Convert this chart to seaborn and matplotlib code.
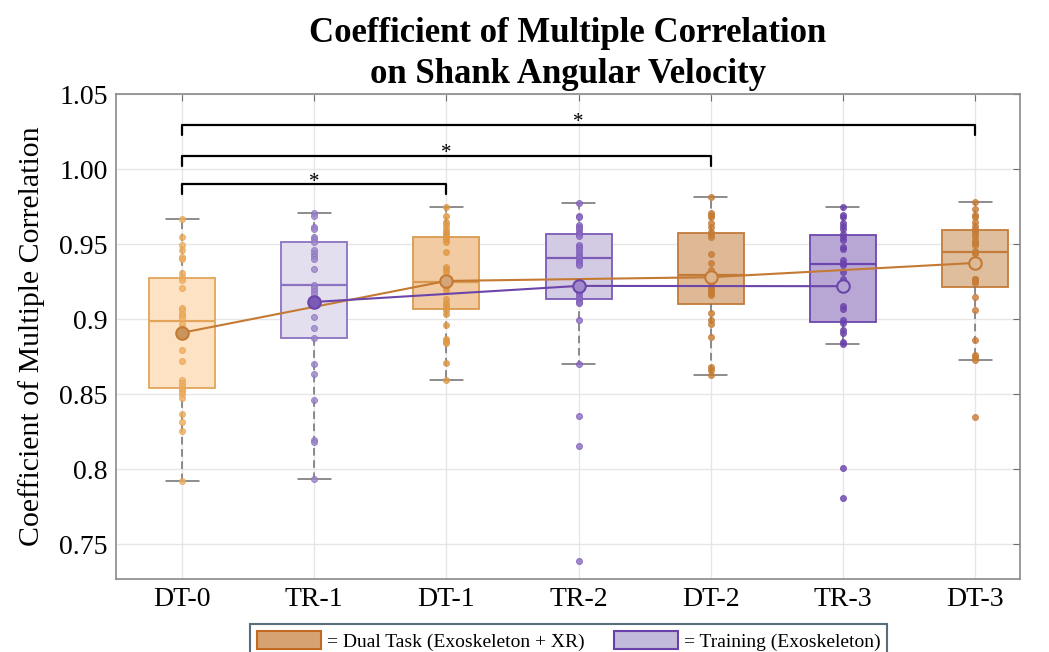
import numpy as np
import pandas as pd
import matplotlib
matplotlib.use("Agg")
import matplotlib.pyplot as plt
from matplotlib.patches import Patch
import seaborn as sns

# Conditions in plotting order
categories = ["DT-0", "TR-1", "DT-1", "TR-2", "DT-2", "TR-3", "DT-3"]

# Per-subject CMC values
dt0 = [0.9665, 0.9549, 0.9493, 0.946, 0.9415, 0.9398, 0.9305, 0.9278, 0.926, 0.9205,
       0.9078, 0.906, 0.9038, 0.903, 0.9011, 0.8965, 0.8942, 0.8793, 0.872, 0.8593,
       0.8575, 0.8558, 0.8538, 0.852, 0.85, 0.8478, 0.8371, 0.8315, 0.8255, 0.7922]
tr1 = [0.9705, 0.9687, 0.9615, 0.9604, 0.9549, 0.9533, 0.9515, 0.946, 0.9438, 0.9422,
       0.9398, 0.9333, 0.9227, 0.9211, 0.9187, 0.9167, 0.9015, 0.894, 0.8875, 0.8705,
       0.8635, 0.8465, 0.8198, 0.8182, 0.7933]
dt1 = [0.9749, 0.9687, 0.9649, 0.9627, 0.9604, 0.9582, 0.9567, 0.9549, 0.9533, 0.9515,
       0.9449, 0.9349, 0.9333, 0.9315, 0.926, 0.924, 0.9225, 0.9215, 0.9198, 0.9138,
       0.9109, 0.9087, 0.906, 0.9038, 0.896, 0.8871, 0.8855, 0.8842, 0.8709, 0.8598]
tr2 = [0.9775, 0.9687, 0.9682, 0.9627, 0.9611, 0.9598, 0.9582, 0.9567, 0.9553, 0.9493,
       0.9478, 0.946, 0.9438, 0.9422, 0.9405, 0.9389, 0.9375, 0.936, 0.9182, 0.9167,
       0.9149, 0.9133, 0.9115, 0.9105, 0.8998, 0.87, 0.8355, 0.8155, 0.7389]
dt2 = [0.9815, 0.9709, 0.9693, 0.9682, 0.9638, 0.9615, 0.9582, 0.9567, 0.9549, 0.9433,
       0.9375, 0.9327, 0.9295, 0.9293, 0.9249, 0.9227, 0.9211, 0.9193, 0.9175, 0.916,
       0.9042, 0.8993, 0.8971, 0.8882, 0.8682, 0.8665, 0.8627]
tr3 = [0.9749, 0.9693, 0.9682, 0.9638, 0.962, 0.9604, 0.9567, 0.9549, 0.9531, 0.9478,
       0.9465, 0.9393, 0.9375, 0.936, 0.9315, 0.9265, 0.9087, 0.9065, 0.8993, 0.8975,
       0.8931, 0.8909, 0.8849, 0.8833, 0.8011, 0.7811]
dt3 = [0.9778, 0.9731, 0.9693, 0.9678, 0.965, 0.962, 0.9604, 0.9589, 0.9571, 0.9549,
       0.952, 0.9509, 0.9493, 0.9455, 0.9442, 0.944, 0.9375, 0.9271, 0.9265, 0.9255,
       0.9242, 0.9145, 0.906, 0.886, 0.876, 0.8749, 0.8731, 0.8349]

# Group means shown as connected markers
dt_names = ["DT-0", "DT-1", "DT-2", "DT-3"]
dt_means = [0.891, 0.9255, 0.928, 0.9375]
tr_names = ["TR-1", "TR-2", "TR-3"]
tr_means = [0.9115, 0.9222, 0.922]

# Significant pairs and bracket heights
comparisons = [("DT-0", "DT-1", 0.9898), ("DT-0", "DT-2", 1.0087), ("DT-0", "DT-3", 1.0293)]

ytick_vals = [0.75, 0.8, 0.85, 0.9, 0.95, 1.0, 1.05]
ytick_labels = ["0.75", "0.8", "0.85", "0.9", "0.95", "1.00", "1.05"]

# colours per condition
box_face = ["#FDE3C4", "#E3DFEF", "#F2CBA2", "#D3CBE4", "#DFB896", "#B8A7D5", "#DFBE9E"]
box_edge = ["#E3A55A", "#8C72C2", "#D99A50", "#7D5CB8", "#C27C3A", "#6C46AC", "#C47C3A"]
pt_color = ["#F2AE5C", "#9D86CB", "#E3963A", "#8C6DC4", "#C97B2E", "#6A40AA", "#C87D35"]
mean_face = {"DT-0": "#C8955E", "DT-1": "#D4A77A", "DT-2": "#DDB58E", "DT-3": "#DEBB98",
             "TR-1": "#7A5BB6", "TR-2": "#A08AC9", "TR-3": "#B6A5D4"}
dt_line = "#C47A32"
tr_line = "#6B45AA"
grey = "#6E6E6E"

values = [dt0, tr1, dt1, tr2, dt2, tr3, dt3]
df = pd.DataFrame({
    "cond": np.concatenate([[c] * len(v) for c, v in zip(categories, values)]),
    "cmc": np.concatenate(values),
})

sns.set_style("white")
plt.rcParams["font.family"] = ["Liberation Serif", "DejaVu Serif"]
plt.rcParams["text.color"] = "black"
plt.rcParams["axes.labelcolor"] = "black"

fig = plt.figure(figsize=(10.49, 6.52), dpi=100)
ax = fig.add_axes([0.1106, 0.112, 0.8618, 0.7438])

for i, cat in enumerate(categories):
    sub = df[df["cond"] == cat]
    sns.boxplot(data=sub, x="cond", y="cmc", order=categories, width=0.5,
                color=box_face[i], linecolor=box_edge[i], saturation=1,
                linewidth=1.3, showfliers=False, whis=1.5,
                whiskerprops=dict(color=grey, linestyle=(0, (5, 3)), linewidth=1.1),
                capprops=dict(color=grey, linewidth=1.1),
                medianprops=dict(color=box_edge[i], linewidth=1.6),
                zorder=2, ax=ax)
    sns.stripplot(data=sub, x="cond", y="cmc", order=categories, jitter=False,
                  color=pt_color[i], size=4.3, linewidth=0.7, edgecolor=box_edge[i],
                  alpha=0.8, zorder=3, ax=ax)

# mean lines
xpos = {c: i for i, c in enumerate(categories)}
dt_x = [xpos[c] for c in dt_names]
tr_x = [xpos[c] for c in tr_names]
ax.plot(dt_x, dt_means, color=dt_line, lw=1.5, zorder=4)
ax.plot(tr_x, tr_means, color=tr_line, lw=1.5, zorder=4)
for c, m in zip(dt_names, dt_means):
    ax.plot(xpos[c], m, "o", ms=9, mfc=mean_face[c], mec=dt_line, mew=1.5, zorder=5)
for c, m in zip(tr_names, tr_means):
    ax.plot(xpos[c], m, "o", ms=9, mfc=mean_face[c], mec=tr_line, mew=1.5, zorder=5)

# significance brackets
drop = 0.0065
for a, b, h in comparisons:
    x1, x2 = xpos[a], xpos[b]
    ax.plot([x1, x1, x2, x2], [h - drop, h, h, h - drop], color="black", lw=1.6, zorder=6)
    ax.text((x1 + x2) / 2, h - 0.0048, "*", ha="center", va="bottom", fontsize=15,
            color="black")

ax.set_xlim(-0.5, 6.34)
ax.set_ylim(0.727, 1.05)
ax.set_yticks(ytick_vals)
ax.set_yticklabels(ytick_labels)
ax.set_xticks(range(len(categories)))
ax.set_xticklabels(categories)
ax.tick_params(axis="both", labelsize=20, direction="in", length=5, color=grey,
               labelcolor="black", top=True, right=True, pad=6)
ax.grid(True, color="#E6E6E6", lw=1)
ax.set_axisbelow(True)
for s in ax.spines.values():
    s.set_color("#8A8A8A")
    s.set_linewidth(1.2)
ax.set_xlabel("")
ax.set_ylabel("Coefficient of Multiple Correlation", fontsize=21.5, labelpad=10)
ax.set_title("Coefficient of Multiple Correlation\non Shank Angular Velocity",
             fontsize=25, fontweight="bold", pad=8, linespacing=1.3, color="black")

handles = [
    Patch(facecolor="#D6A272", edgecolor="#C06A22", lw=1.5, label="= Dual Task (Exoskeleton + XR)"),
    Patch(facecolor="#C2BBD9", edgecolor="#6A40AA", lw=1.5, label="= Training (Exoskeleton)"),
]
leg = fig.legend(handles=handles, loc="upper center", bbox_to_anchor=(0.5424, 0.043),
                 ncol=2, fontsize=14, frameon=True, fancybox=False, handlelength=3.3,
                 handleheight=1.1, handletextpad=0.3, columnspacing=1.5,
                 borderpad=0.35, borderaxespad=0, edgecolor="#2F4A5A")
leg.get_frame().set_linewidth(1.5)

fig.savefig("out.png", dpi=100)
